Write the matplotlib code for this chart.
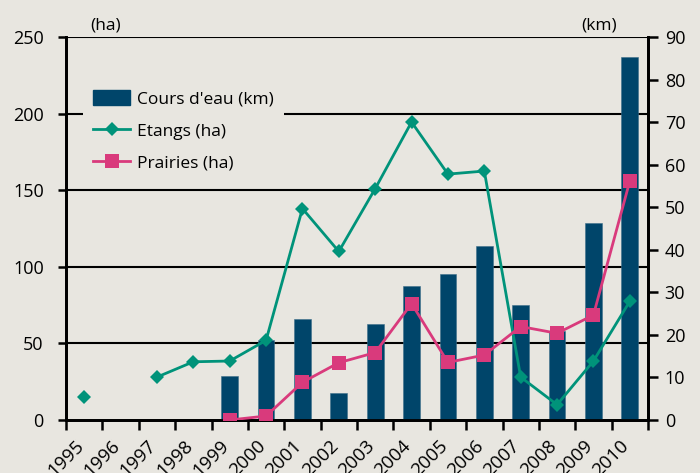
import numpy as np
import matplotlib
matplotlib.use("Agg")
import matplotlib.pyplot as plt
from matplotlib.patches import Patch
from matplotlib.lines import Line2D

plt.rcParams['font.family'] = ['Open Sans', 'DejaVu Sans']

years = ['1995', '1996', '1997', '1998', '1999', '2000', '2001', '2002',
         '2003', '2004', '2005', '2006', '2007', '2008', '2009', '2010']
cours_eau_km = [np.nan, np.nan, np.nan, np.nan, 10.4, 18.7, 23.7, 6.4,
                22.6, 31.4, 34.4, 41.0, 27.1, 21.0, 46.4, 85.3]
etangs_ha = [15, np.nan, 28, 38, 38.5, 52, 138, 110,
             151, 194.5, 160.5, 162.5, 28, 10, 38.5, 77.5]
prairies_ha = [np.nan, np.nan, np.nan, np.nan, 0, 2.6, 24.6, 37.4,
               44, 76, 37.6, 42.4, 61, 56.6, 68.5, 156]

BG = '#E8E6E0'
NAVY = '#00456A'
GREEN = '#00937A'
PINK = '#D93A7C'

fig = plt.figure(figsize=(7.0, 4.73), dpi=100, facecolor=BG)
pos = [66/700, 53/473, (648-66)/700, (420-37)/473]

x = np.arange(len(years))

# base axes (ha) with grid
ax = fig.add_axes(pos)
ax.set_facecolor(BG)
ax.set_xlim(-0.5, len(years) - 0.5)
ax.set_ylim(0, 250)
ax.set_yticks([0, 50, 100, 150, 200, 250])
for v in [50, 100, 150, 200, 250]:
    ax.axhline(v, color='black', lw=1.5, zorder=0)

# km axis with bars
ax2 = ax.twinx()
ax2.set_ylim(0, 90)
ax2.set_yticks(range(0, 91, 10))
ax2.bar(x, cours_eau_km, width=0.46, color=NAVY, edgecolor='#3E6F8A', linewidth=0.4, zorder=2)

# top axes for the lines (ha scale)
ax3 = fig.add_axes(pos, sharex=ax)
ax3.set_ylim(0, 250)
ax3.patch.set_visible(False)
ax3.axis('off')
ax3.plot(x, etangs_ha, color=GREEN, lw=2, marker='D', markersize=7, mew=0, zorder=3)
ax3.plot(x, prairies_ha, color=PINK, lw=2, marker='s', markersize=10, mew=0, zorder=3)

# spines & ticks
for a in (ax, ax2):
    a.spines['top'].set_visible(False)
    a.spines['left'].set_linewidth(2)
    a.spines['right'].set_linewidth(2)
    a.spines['bottom'].set_linewidth(2)
ax.tick_params(axis='y', direction='out', length=6, width=1.8, pad=10, labelsize=13)
ax2.tick_params(axis='y', direction='out', length=7, width=1.8, pad=5, labelsize=13)

ax.set_xticks(np.arange(-0.5, len(years), 1.0))
ax.set_xticklabels([])
ax.tick_params(axis='x', which='major', direction='out', length=7, width=1.8)
ax.set_xticks(x - 0.27, minor=True)
ax.set_xticklabels(years, minor=True, rotation=45, ha='right', va='top',
                   rotation_mode='anchor', fontsize=13.5)
ax.tick_params(axis='x', which='minor', length=0, pad=12)

fig.text(90/700, 1 - 26/473, '(ha)', fontsize=12.5, va='center', ha='left')
fig.text(581/700, 1 - 25/473, '(km)', fontsize=12.5, va='center', ha='left')

handles = [Patch(facecolor=NAVY, edgecolor=NAVY),
           Line2D([], [], color=GREEN, lw=2, marker='D', markersize=7, mew=0),
           Line2D([], [], color=PINK, lw=2, marker='s', markersize=10, mew=0)]
labels = ["Cours d'eau (km)", 'Etangs (ha)', 'Prairies (ha)']
leg = ax3.legend(handles, labels, loc='upper left',
                 bbox_to_anchor=((83-66)/582, (420-80)/383),
                 borderaxespad=0, frameon=True, fontsize=12.5,
                 handlelength=2.1, handleheight=0.9, handletextpad=0.4,
                 labelspacing=0.85, borderpad=0.6)
leg.get_frame().set_facecolor(BG)
leg.get_frame().set_edgecolor('none')
leg.get_frame().set_alpha(1)
leg.set_zorder(10)

fig.savefig('out.png', dpi=100, facecolor=BG)
